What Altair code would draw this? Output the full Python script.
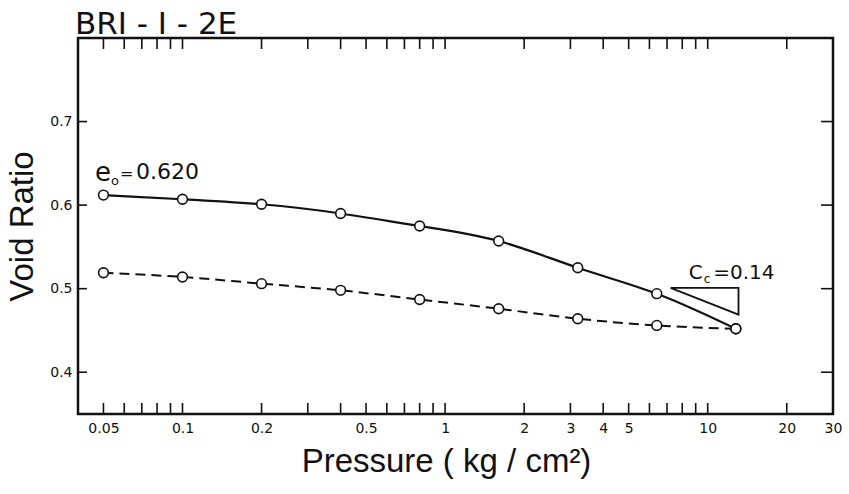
import altair as alt
import pandas as pd

# Oedometer test, sample BRI-I-2E: void ratio vs. consolidation pressure
pressure = [0.05, 0.1, 0.2, 0.4, 0.8, 1.6, 3.2, 6.4, 12.8]
void_loading = [0.612, 0.607, 0.601, 0.590, 0.575, 0.557, 0.525, 0.494, 0.452]
void_rebound = [0.519, 0.514, 0.506, 0.498, 0.487, 0.476, 0.464, 0.456, 0.452]

# axis tick values (log pressure axis, linear void-ratio axis)
x_labels = [0.05, 0.1, 0.2, 0.5, 1, 2, 3, 4, 5, 10, 20, 30]
x_ticks = [0.05, 0.06, 0.07, 0.08, 0.09, 0.1, 0.2, 0.3, 0.4, 0.5, 0.6, 0.7,
           0.8, 0.9, 1, 2, 3, 4, 5, 6, 7, 8, 9, 10, 20]
y_ticks = [0.4, 0.5, 0.6, 0.7]

# compression-index slope triangle (pressure, void ratio)
tri_p = [7.22, 13.1, 13.1, 7.22]
tri_e = [0.501, 0.501, 0.469, 0.501]

# annotation pieces: text, pressure, void ratio, font size
ann_text = ["e", "o", "=", "0.620", "C", "c", "=0.14"]
ann_p = [0.0464, 0.0534, 0.0578, 0.0665, 8.46, 9.66, 10.5]
ann_e = [0.629, 0.624, 0.631, 0.631, 0.512, 0.507, 0.512]
ann_size = [26, 13, 16, 22, 20, 12, 20]

W, H = 755, 376
FONT = "Liberation Sans"
LETTER = "DejaVu Sans"
INK = "#111111"

xscale = alt.Scale(type="log", domain=[0.04, 30])
yscale = alt.Scale(domain=[0.35, 0.80])

curves = pd.DataFrame({
    "p": pressure * 2,
    "e": void_loading + void_rebound,
    "branch": ["loading"] * len(pressure) + ["rebound"] * len(pressure),
})
loading = curves[curves.branch == "loading"]
rebound = curves[curves.branch == "rebound"]

x_axis = alt.Axis(
    values=x_labels, format="~g", ticks=False, domain=False, grid=False,
    labelFont=LETTER, labelFontSize=14, labelPadding=7,
    labelColor=INK, labelFlush=False,
    title="Pressure ( kg / cm²)", titleFont=FONT, titleFontSize=33,
    titleFontWeight="normal", titleColor=INK, titlePadding=10,
    titleX=368,
)
y_axis = alt.Axis(
    values=y_ticks, format=".1f", ticks=False, domain=False, grid=False,
    labelFont=LETTER, labelFontSize=14, labelPadding=6,
    labelColor=INK,
    title="Void Ratio", titleFont=FONT, titleFontSize=33,
    titleFontWeight="normal", titleColor=INK, titlePadding=10,
)

line_load = alt.Chart(loading).mark_line(
    color=INK, strokeWidth=2.2, interpolate="natural"
).encode(
    x=alt.X("p:Q", scale=xscale, axis=x_axis),
    y=alt.Y("e:Q", scale=yscale, axis=y_axis),
)

line_rebound = alt.Chart(rebound).mark_line(
    color=INK, strokeWidth=2.0, strokeDash=[10, 6], interpolate="monotone"
).encode(
    x=alt.X("p:Q", scale=xscale),
    y=alt.Y("e:Q", scale=yscale),
)

points = alt.Chart(curves).mark_point(
    shape="circle", filled=True, fill="white", stroke=INK,
    strokeWidth=1.6, size=95, opacity=1,
).encode(
    x=alt.X("p:Q", scale=xscale),
    y=alt.Y("e:Q", scale=yscale),
)

triangle = alt.Chart(pd.DataFrame({
    "p": tri_p, "e": tri_e, "k": list(range(len(tri_p)))
})).mark_line(color=INK, strokeWidth=1.8).encode(
    x=alt.X("p:Q", scale=xscale),
    y=alt.Y("e:Q", scale=yscale),
    order="k:O",
)

labels = alt.Chart(pd.DataFrame({
    "t": ann_text, "p": ann_p, "e": ann_e, "s": ann_size
})).mark_text(
    align="left", baseline="alphabetic", font=LETTER, color=INK
).encode(
    x=alt.X("p:Q", scale=xscale),
    y=alt.Y("e:Q", scale=yscale),
    text="t:N",
    size=alt.Size("s:Q", scale=None, legend=None),
)

# inward-pointing tick marks on all four sides of the frame
xt = pd.DataFrame({"t": x_ticks})
yt = pd.DataFrame({"t": y_ticks})
tick_style = dict(color=INK, strokeWidth=1.6)

ticks_bottom = alt.Chart(xt).mark_rule(**tick_style).encode(
    x=alt.X("t:Q", scale=xscale),
    y=alt.value(H), y2=alt.value(H - 11),
)
ticks_top = alt.Chart(xt).mark_rule(**tick_style).encode(
    x=alt.X("t:Q", scale=xscale),
    y=alt.value(0), y2=alt.value(11),
)
ticks_left = alt.Chart(yt).mark_rule(**tick_style).encode(
    y=alt.Y("t:Q", scale=yscale),
    x=alt.value(0), x2=alt.value(9),
)
ticks_right = alt.Chart(yt).mark_rule(**tick_style).encode(
    y=alt.Y("t:Q", scale=yscale),
    x=alt.value(W), x2=alt.value(W - 12),
)

chart = alt.layer(
    line_load, line_rebound, triangle, points, labels,
    ticks_bottom, ticks_top, ticks_left, ticks_right,
).properties(
    width=W, height=H,
    title=alt.TitleParams(
        text="BRI - I - 2E", anchor="start", frame="group", font=LETTER,
        fontSize=31, fontWeight="normal", color=INK, offset=1, dx=-3, dy=5,
    ),
    padding={"left": 78, "top": 38, "right": 16, "bottom": 80},
    autosize=alt.AutoSizeParams(type="none"),
    background="white",
).configure_view(
    stroke=INK, strokeWidth=2.5,
)

chart.save("out.html", embed_options={"renderer": "svg", "actions": False})
